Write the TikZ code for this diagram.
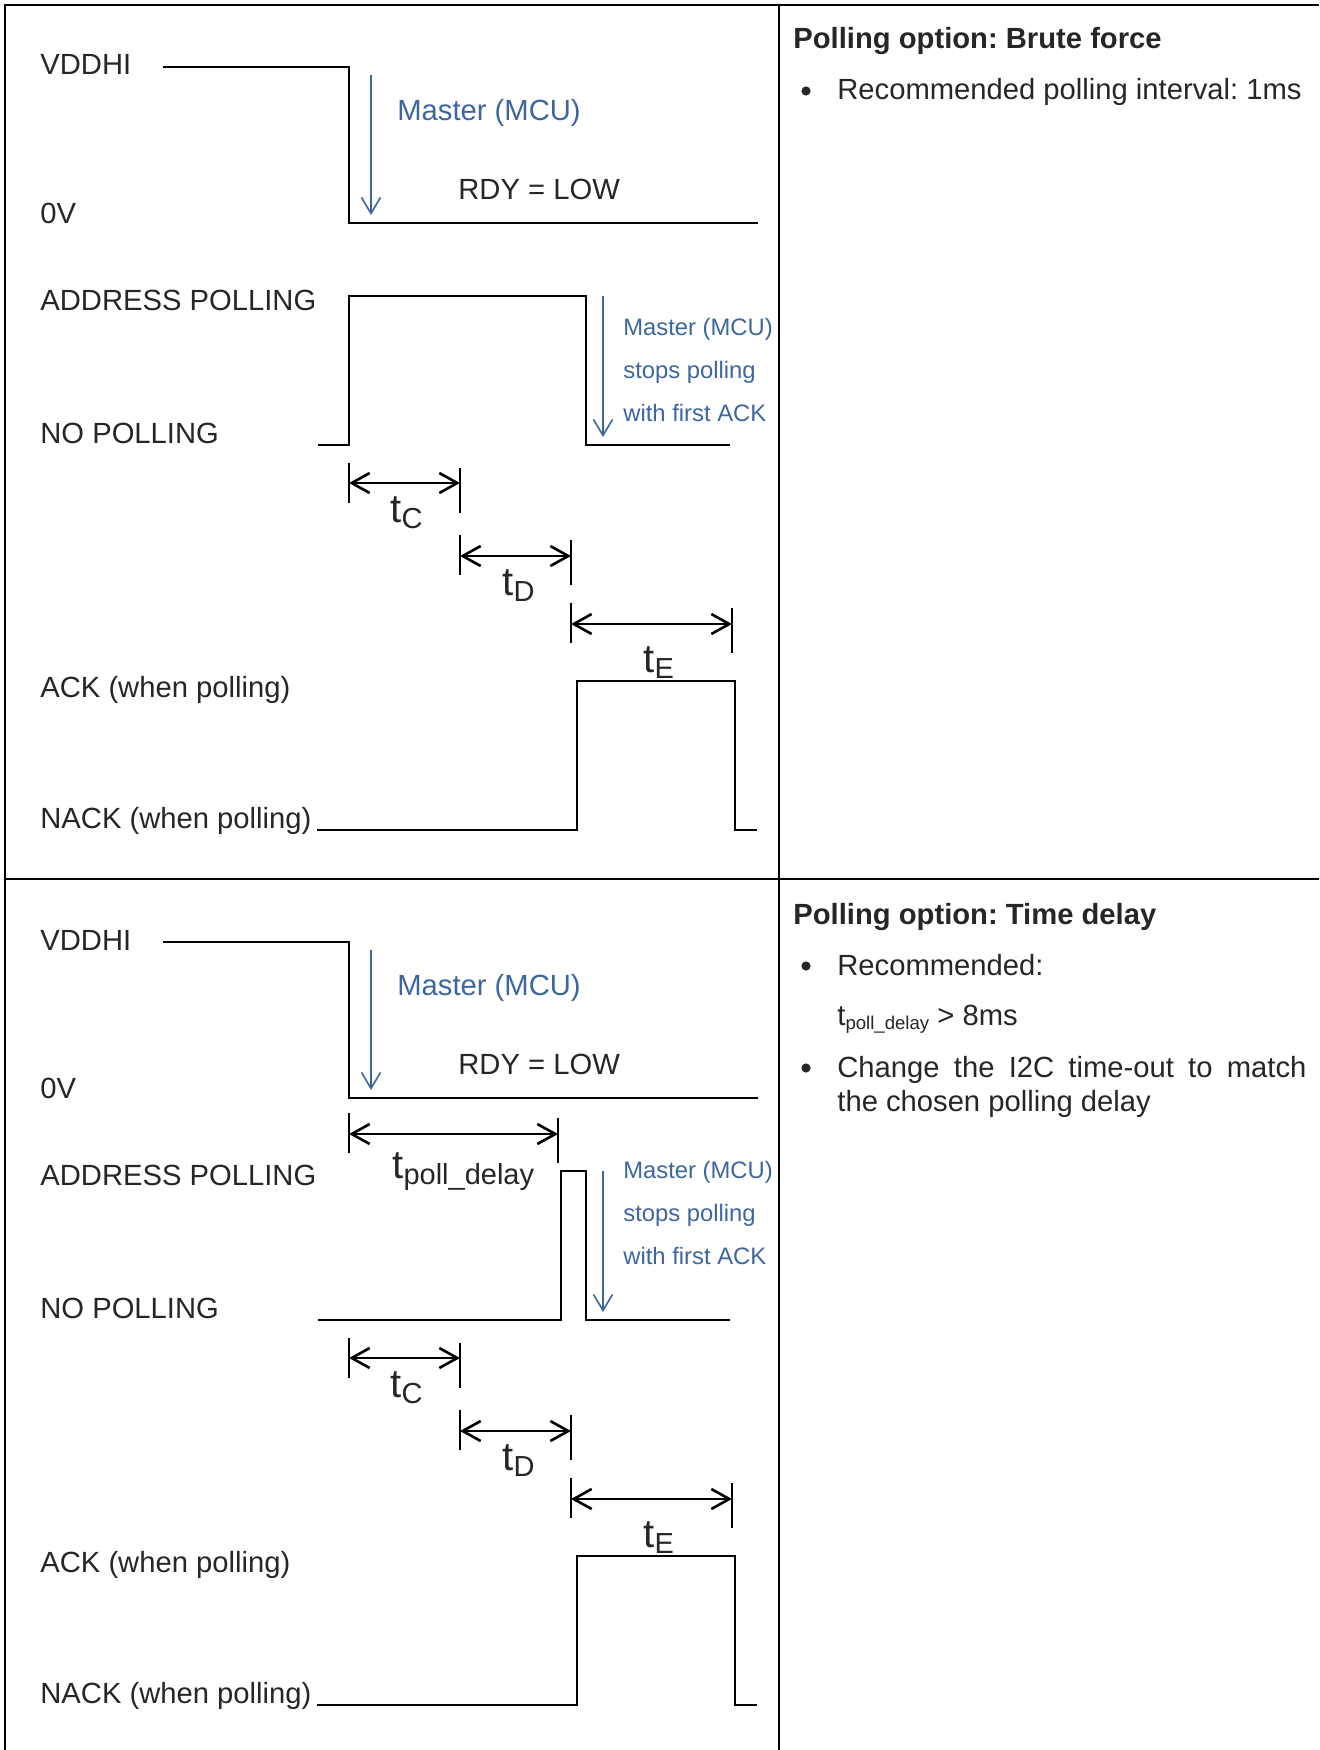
\documentclass[tikz,border=0pt]{standalone}
\usepackage{fontspec}
\setmainfont{Liberation Sans}
\usetikzlibrary{arrows.meta}
\definecolor{mcublue}{RGB}{62,102,158}
\definecolor{txtgray}{RGB}{38,38,38}
\newcommand{\tbig}[1]{{\fontsize{20pt}{20pt}\selectfont t}\raisebox{-3pt}{\fontsize{14.5pt}{14.5pt}\selectfont #1}}
\frenchspacing
\begin{document}
\begin{tikzpicture}[x=0.5pt, y=-0.5pt,
    lbl/.style={anchor=base west, inner sep=0pt, text=txtgray, font=\fontsize{14.6pt}{17pt}\selectfont},
    head/.style={lbl, font=\fontsize{14.6pt}{17pt}\selectfont\bfseries},
    note/.style={anchor=base west, inner sep=0pt, text=mcublue, font=\fontsize{14.6pt}{17pt}\selectfont},
    smallnote/.style={anchor=base west, inner sep=0pt, text=mcublue, font=\fontsize{11.9pt}{14pt}\selectfont},
    dot/.style={circle, fill=txtgray, inner sep=0pt, minimum size=4.6pt},
    frame/.style={line width=1.2pt},
    sig/.style={line width=1pt},
    tick/.style={line width=1.3pt},
    dim/.style={line width=1.3pt, {Straight Barb[length=9pt,width=10pt]}-{Straight Barb[length=9pt,width=10pt]}},
    master/.style={mcublue, line width=0.8pt, -{Straight Barb[length=8pt,width=9.5pt]}}]
  \useasboundingbox (0,0) rectangle (1319,1750);
  \draw [frame] (5,1750) -- (5,5) -- (1319,5);
  \draw [frame] (779,5) -- (779,1750);
  \draw [frame] (5,879) -- (1319,879);
  \foreach \oy/\p/\rx/\ny in {0/a/349/335, 875/b/561/303} {
    \begin{scope}[shift={(0,\oy)}]
      \node [lbl] (vdd\p) at (40,75) {VDDHI};
      \node [lbl] (zero\p) at (40,223) {0V};
      \node [lbl] (addr\p) at (40,310) {ADDRESS POLLING};
      \node [lbl] (nopoll\p) at (40,443) {NO POLLING};
      \node [lbl] (ack\p) at (40,697) {ACK (when polling)};
      \node [lbl] (nack\p) at (40,828) {NACK (when polling)};
      \draw [sig] (163,67) -- (349,67) -- (349,223) -- (758,223);
      \draw [sig] (318,445) -- (\rx,445) -- (\rx,296) -- (586,296) -- (586,445) -- (730,445);
      \draw [sig] (317,830) -- (577,830) -- (577,681) -- (735,681) -- (735,830) -- (757,830);
      \coordinate (ma\p) at (371,75);
      \coordinate (mb\p) at (371,215);
      \draw [master] (ma\p) -- (mb\p);
      \node [note] (mcu\p) at (397,120) {Master (MCU)};
      \node [lbl] (rdy\p) at (458,199) {RDY = LOW};
      \coordinate (sa\p) at (603,296);
      \coordinate (sb\p) at (603,437);
      \draw [master] (sa\p) -- (sb\p);
      \node [smallnote] (stop1\p) at (623,\ny) {Master (MCU)};
      \node [smallnote] (stop2\p) at (623,\ny+43) {stops polling};
      \node [smallnote] (stop3\p) at (623,\ny+86) {with first ACK};
      \draw [tick] (349,463) -- (349,503);
      \draw [tick] (460,468) -- (460,513);
      \draw [tick] (460,535) -- (460,575);
      \draw [tick] (571,540) -- (571,585);
      \draw [tick] (571,603) -- (571,643);
      \draw [tick] (732,608) -- (732,653);
      \coordinate (c1\p) at (349,483);
      \coordinate (c2\p) at (460,483);
      \coordinate (d1\p) at (460,556);
      \coordinate (d2\p) at (571,556);
      \coordinate (e1\p) at (571,624);
      \coordinate (e2\p) at (732,624);
      \draw [dim] (c1\p) -- (c2\p);
      \draw [dim] (d1\p) -- (d2\p);
      \draw [dim] (e1\p) -- (e2\p);
      \node [lbl] (tc\p) at (390,522) {\tbig{C}};
      \node [lbl] (td\p) at (502,595) {\tbig{D}};
      \node [lbl] (te\p) at (643,672) {\tbig{E}};
    \end{scope}
  }
  % time delay option only
  \draw [tick] (349,1113) -- (349,1153);
  \draw [tick] (558,1118) -- (558,1163);
  \coordinate (p1) at (349,1134);
  \coordinate (p2) at (558,1134);
  \draw [dim] (p1) -- (p2);
  \node [lbl] (tpoll) at (392,1178) {\tbig{poll\_delay}};
  % right column
  \node [head] (opt1) at (793,49) {Polling option: Brute force};
  \node [dot] (b1) at (806,91) {};
  \node [lbl] (int1) at (837,100) {Recommended polling interval: 1ms};
  \node [head] (opt2) at (793,924) {Polling option: Time delay};
  \node [dot] (b2) at (806,966) {};
  \node [lbl] (rec2) at (837,975) {Recommended:};
  \node [lbl] (val2) at (837,1025) {t\raisebox{-2pt}{\fontsize{9.3pt}{9.3pt}\selectfont poll\_delay} > 8ms};
  \node [dot] (b3) at (806,1068) {};
  \node [lbl] (chg1) at (837,1077) {\makebox[234.5pt][s]{Change the I2C time-out to match}};
  \node [lbl] (chg2) at (837,1111) {the chosen polling delay};
\end{tikzpicture}
\end{document}
